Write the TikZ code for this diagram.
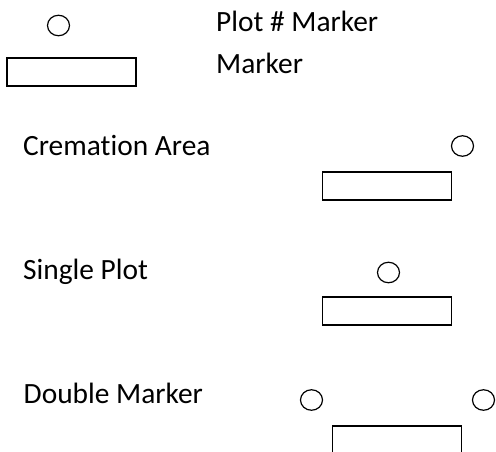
\documentclass[tikz,border=0pt]{standalone}
\usepackage{fontspec}
\usetikzlibrary{shapes.geometric}
\setmainfont{Carlito}[Ligatures=NoCommon]
\tikzset{
 lbl/.style={anchor=base west,inner sep=0pt,font=\fontsize{29.4}{32}\selectfont,text=black},
 circ/.style={draw=black,line width=1.2pt,ellipse,minimum width=22pt,minimum height=20.5pt,inner sep=0pt},
 box/.style={draw=black,line width=1.2pt,minimum width=129pt,minimum height=28pt,inner sep=0pt}
}
\begin{document}
\begin{tikzpicture}[x=1pt,y=-1pt]
\useasboundingbox (0,0) rectangle (496,452);
\node[circ] (c1) at (58.5,25.5) {};
\node[box] (b1) at (71.5,72) {};
\node[lbl] (t1) at (216,32) {Plot \# Marker};
\node[lbl] (t2) at (216,74) {Marker};
\node[lbl] (t3) at (23,155) {Cremation Area};
\node[circ] (c2) at (462.5,146) {};
\node[box] (b2) at (387,186) {};
\node[lbl] (t4) at (23,279) {Single Plot};
\node[circ] (c3) at (388.5,272.5) {};
\node[box] (b3) at (387,311) {};
\node[lbl] (t5) at (23.5,403) {Double Marker};
\node[circ] (c4) at (311.5,400) {};
\node[circ] (c5) at (483.5,400) {};
\node[box] (b4) at (397,440) {};
\end{tikzpicture}
\end{document}
